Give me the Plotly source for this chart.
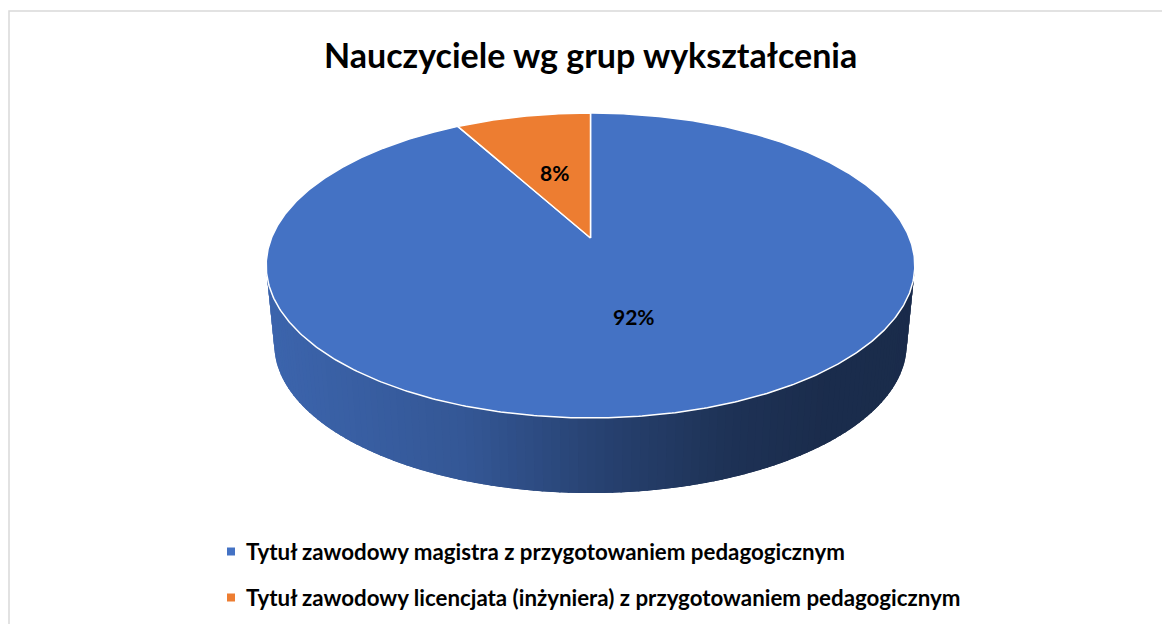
import numpy as np
import plotly.graph_objects as go

# ---------------- data ----------------
title = "Nauczyciele wg grup wykształcenia"
categories = [
    "Tytuł zawodowy magistra z przygotowaniem pedagogicznym",
    "Tytuł zawodowy licencjata (inżyniera) z przygotowaniem pedagogicznym",
]
values = [92, 8]
slice_colors = ["#4472C4", "#ED7D31"]

# ---------------- geometry (style) ----------------
W, H = 1162, 624
CX, CY = 590.5, 238.0      # pie centre on screen (top face)
A, B, K = 147.5, 319.0, 0.1803   # vertical/horizontal radius, perspective factor
SB, CYB = 0.975, 317.6     # bottom face scale / centre
FONT = "Lato"


def proj(t_deg, bottom=False):
    t = np.radians(t_deg)
    X, Z = np.sin(t), np.cos(t)
    d = 1 + K * Z
    if bottom:
        return CX + B * SB * X / d, CYB - A * SB * Z / d
    return CX + B * X / d, CY - A * Z / d


def proj_r(t_deg, r):
    t = np.radians(t_deg)
    X, Z = r * np.sin(t), r * np.cos(t)
    d = 1 + K * Z
    return CX + B * X / d, CY - A * Z / d


def hex2rgb(h):
    h = h.lstrip("#")
    return [int(h[i:i + 2], 16) for i in (0, 2, 4)]


total = sum(values)
angles = np.cumsum([0] + [v / total * 360 for v in values])

fig = go.Figure()

# side wall (visible front part between silhouette tangents)
t_right = np.degrees(np.arccos(-K))
t_left = 360 - t_right
shade_u = [0.0, 0.3, 0.5, 0.7, 0.85, 1.0]
shade_f = [0.88, 0.76, 0.58, 0.44, 0.39, 0.38]
x_left, x_right = CX - B / np.sqrt(1 - K * K), CX + B / np.sqrt(1 - K * K)
for i, v in enumerate(values):
    a0, a1 = max(angles[i], t_right), min(angles[i + 1], t_left)
    if a1 <= a0:
        continue
    n = 120
    ts = np.linspace(a0, a1, n + 1)
    base = hex2rgb(slice_colors[i])
    step = (a1 - a0) / n
    for j in range(n):
        s0 = ts[j] - (0.6 * step if j > 0 else 0)
        s1 = ts[j + 1] + (0.6 * step if j < n - 1 else 0)
        tt = np.linspace(s0, s1, 4)
        xt, yt = proj(tt)
        xb, yb = proj(tt[::-1], bottom=True)
        xs = np.concatenate([xt, xb, xt[:1]])
        ys = np.concatenate([yt, yb, yt[:1]])
        xm = np.mean(xt)
        u = (xm - x_left) / (x_right - x_left)
        f = np.interp(u, shade_u, shade_f)
        c = "rgb(%d,%d,%d)" % tuple(int(round(ch * f)) for ch in base)
        fig.add_trace(go.Scatter(x=xs, y=ys, mode="lines", fill="toself",
                                 fillcolor=c, line=dict(width=0, color=c),
                                 hoverinfo="skip", showlegend=False))

# top faces
for i, v in enumerate(values):
    ts = np.linspace(angles[i], angles[i + 1], max(int(angles[i + 1] - angles[i]) * 2, 10))
    xa, ya = proj(ts)
    xs = np.concatenate([[CX], xa, [CX]])
    ys = np.concatenate([[CY], ya, [CY]])
    fig.add_trace(go.Scatter(x=xs, y=ys, mode="lines", fill="toself",
                             fillcolor=slice_colors[i],
                             line=dict(color="white", width=1.5),
                             hoverinfo="skip", showlegend=False))

# data labels
for i, v in enumerate(values):
    mid = (angles[i] + angles[i + 1]) / 2
    lx, ly = proj_r(mid, 0.5)
    fig.add_annotation(x=lx, y=ly, text="<b>%d%%</b>" % round(v / total * 100),
                       showarrow=False, font=dict(family=FONT, size=21, color="black"))

# legend (manual)
leg_y = [551.5, 597.5]
fig.add_trace(go.Scatter(x=[231, 231], y=leg_y, mode="markers",
                         marker=dict(symbol="square", size=8, color=slice_colors),
                         hoverinfo="skip", showlegend=False))
for i, name in enumerate(categories):
    fig.add_annotation(x=244, y=leg_y[i], text="<b>%s</b>" % name, showarrow=False,
                       xanchor="left", yanchor="middle",
                       font=dict(family=FONT, size=22.3, color="black"))

# title
fig.add_annotation(x=CX, y=54, text="<b>%s</b>" % title, showarrow=False,
                   xanchor="center", yanchor="middle",
                   font=dict(family=FONT, size=34, color="black"))

# chart frame
fig.add_shape(type="rect", x0=9, y0=11, x1=W + 20, y1=H + 20,
              line=dict(color="#D9D9D9", width=1.5), layer="below")

fig.update_layout(
    width=W, height=H, autosize=False,
    margin=dict(l=0, r=0, t=0, b=0),
    paper_bgcolor="white", plot_bgcolor="white",
    xaxis=dict(range=[0, W], visible=False, fixedrange=True),
    yaxis=dict(range=[H, 0], visible=False, fixedrange=True),
    showlegend=False,
)

fig.write_html("out.html", config={"displayModeBar": False},
               post_script="document.body.style.margin='0';document.body.style.overflow='hidden';")
